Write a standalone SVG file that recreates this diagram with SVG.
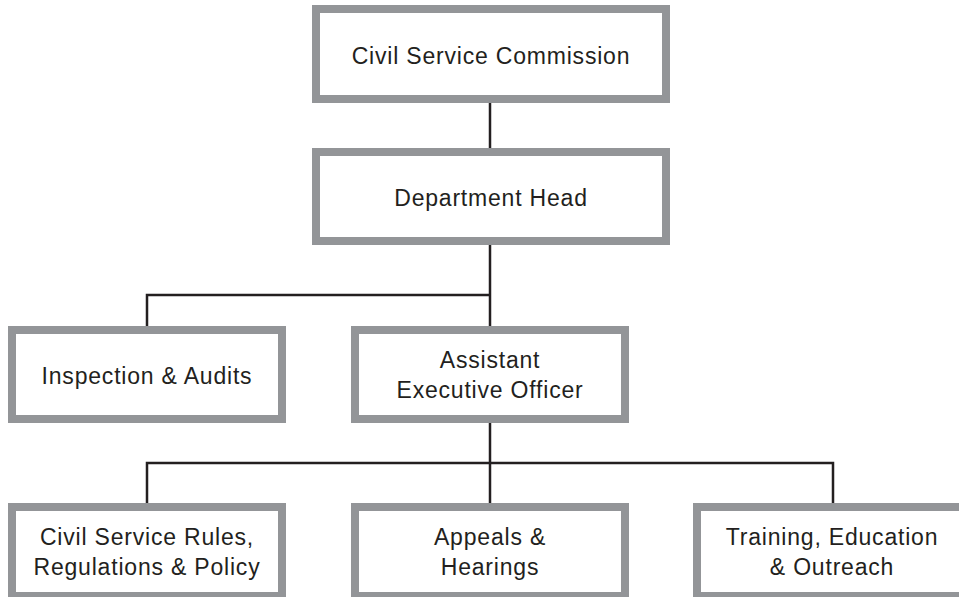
<svg xmlns="http://www.w3.org/2000/svg" width="959" height="597" viewBox="0 0 959 597">
<style>
.box{fill:#ffffff;stroke:#939598;stroke-width:8}
.lbl{font-family:"Liberation Sans",Arial,sans-serif;font-size:23px;fill:#231f20;text-anchor:middle;letter-spacing:0.8px}
.con{fill:none;stroke:#231f20;stroke-width:2.5}
</style>
<rect width="959" height="597" fill="#ffffff"/>
<g id="connectors">
<path class="con" d="M490,103 V148"/>
<path class="con" d="M490,245 V326"/>
<path class="con" d="M147,326 V295 H490"/>
<path class="con" d="M490,423 V503"/>
<path class="con" d="M147,503 V463 H833 V503"/>
</g>
<g id="civil-service-commission">
<rect class="box" x="316" y="9" width="350" height="90"/>
<text class="lbl" x="491" y="64">Civil Service Commission</text>
</g>
<g id="department-head">
<rect class="box" x="316" y="152" width="350" height="89"/>
<text class="lbl" x="491" y="206">Department Head</text>
</g>
<g id="inspection-audits">
<rect class="box" x="12" y="330" width="270" height="89"/>
<text class="lbl" x="147" y="384">Inspection &amp; Audits</text>
</g>
<g id="assistant-executive-officer">
<rect class="box" x="355" y="330" width="270" height="89"/>
<text class="lbl" x="490" y="368">Assistant</text>
<text class="lbl" x="490" y="398">Executive Officer</text>
</g>
<g id="civil-service-rules">
<rect class="box" x="12" y="507" width="270" height="89"/>
<text class="lbl" x="147" y="545">Civil Service Rules,</text>
<text class="lbl" x="147" y="575">Regulations &amp; Policy</text>
</g>
<g id="appeals-hearings">
<rect class="box" x="355" y="507" width="270" height="89"/>
<text class="lbl" x="490" y="545">Appeals &amp;</text>
<text class="lbl" x="490" y="575">Hearings</text>
</g>
<g id="training-education-outreach">
<rect class="box" x="697" y="507" width="270" height="89"/>
<text class="lbl" x="832" y="545">Training, Education</text>
<text class="lbl" x="832" y="575">&amp; Outreach</text>
</g>
</svg>
